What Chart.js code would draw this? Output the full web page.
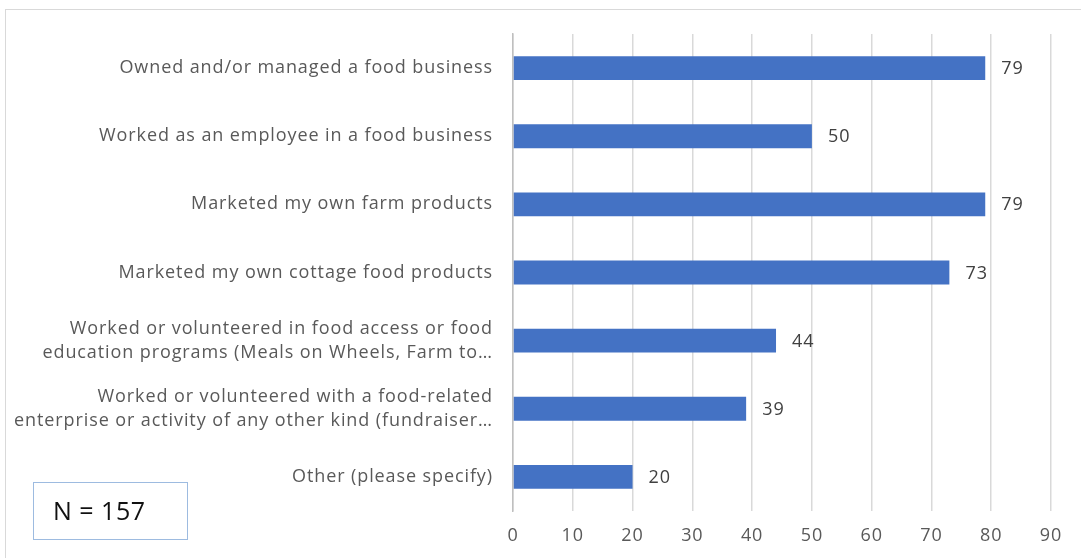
<!DOCTYPE html>
<html>
<head>
<meta charset="utf-8">
<script src="https://cdn.jsdelivr.net/npm/chart.js@4.4.0/dist/chart.umd.min.js"></script>
<style>
  html, body { margin: 0; padding: 0; background: #fff; }
  #wrap { position: relative; width: 1081px; height: 558px; overflow: hidden; }
  #frame { position: absolute; left: 5px; top: 9px; width: 1100px; height: 600px; border: 1px solid #d9d9d9; }
  #cnv { position: absolute; left: 0; top: 0; }
  #nbox { position: absolute; left: 33px; top: 482px; width: 155px; height: 58px; border: 1.5px solid #9dbbe0;
          font-family: "Open Sans", sans-serif; font-size: 25px; color: #111; line-height: 54px; padding-left: 19px; box-sizing: border-box; letter-spacing: 0.5px; }
</style>
</head>
<body>
<div id="wrap">
  <div id="frame"></div>
  <canvas id="cnv" width="1081" height="558"></canvas>
  <div id="nbox">N = 157</div>
</div>
<script>
var categories = [
  "Owned and/or managed a food business",
  "Worked as an employee in a food business",
  "Marketed my own farm products",
  "Marketed my own cottage food products",
  ["Worked or volunteered in food access or food", "education programs (Meals on Wheels, Farm to\u2026"],
  ["Worked or volunteered with a food-related", "enterprise or activity of any other kind (fundraiser\u2026"],
  "Other (please specify)"
];
var values = [79, 50, 79, 73, 44, 39, 20];
var xTicks = [0, 10, 20, 30, 40, 50, 60, 70, 80, 90];

// the source text is wider than Open Sans, so space it out a bit
var spacing = {
  id: 'spacing',
  beforeDraw: function(chart) { chart.ctx.letterSpacing = '0.9px'; }
};

var barLabels = {
  id: 'barLabels',
  afterDatasetsDraw: function(chart) {
    var ctx = chart.ctx;
    var meta = chart.getDatasetMeta(0);
    ctx.save();
    ctx.font = '18px "Open Sans", sans-serif';
    ctx.letterSpacing = '1px';
    ctx.fillStyle = '#404040';
    ctx.textAlign = 'left';
    ctx.textBaseline = 'middle';
    meta.data.forEach(function(bar, i) {
      ctx.fillText(String(values[i]), bar.x + 16, bar.y + 1);
    });
    ctx.restore();
  }
};

var ctx = document.getElementById("cnv").getContext('2d');
var myChart = new Chart(ctx, {
  type: 'bar',
  data: {
    labels: categories,
    datasets: [{
      label: 'Result',
      data: values,
      backgroundColor: '#4472c4',
      borderWidth: 0,
      categoryPercentage: 1,
      barPercentage: 0.35
    }]
  },
  options: {
    indexAxis: 'y',
    responsive: false,
    animation: false,
    layout: { padding: { left: 0, right: 30, top: 34, bottom: 0 } },
    plugins: {
      legend: { display: false },
      tooltip: { enabled: false }
    },
    scales: {
      x: {
        min: 0,
        max: 90,
        afterBuildTicks: function(axis) {
          axis.ticks = xTicks.map(function(v) { return { value: v }; });
        },
        afterFit: function(axis) { axis.height = 47; },
        grid: { color: '#d9d9d9', lineWidth: 1.5, drawTicks: false },
        border: { display: false },
        ticks: { color: '#595959', font: { family: 'Open Sans', size: 18 }, padding: 14 }
      },
      y: {
        afterFit: function(axis) { axis.width = 513; },
        grid: { display: false, drawTicks: false },
        border: { display: true, color: '#bfbfbf', width: 1.5 },
        ticks: { color: '#595959', font: { family: 'Open Sans', size: 18, lineHeight: 1.33 }, padding: 20 }
      }
    }
  },
  plugins: [spacing, barLabels]
});
</script>
</body>
</html>
